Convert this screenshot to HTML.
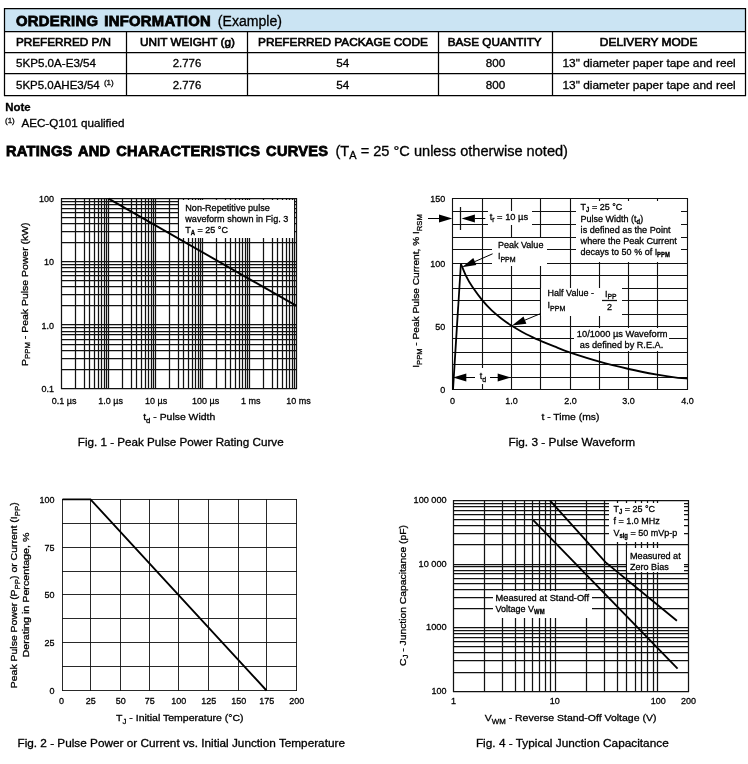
<!DOCTYPE html>
<html lang="en"><head><meta charset="utf-8"><title>Ordering Information and Ratings Curves</title>
<style>html,body{margin:0;padding:0;background:#fff;}body{width:748px;height:764px;overflow:hidden;}svg{display:block;font-family:"Liberation Sans", Arial, Helvetica, sans-serif;}text{fill:#000;stroke:#000;stroke-width:0.3px;}.g line{stroke-width:1.25px;}.g2 line{stroke-width:0.9px;}.g3 line{stroke-width:1.12px;}.hv{stroke-width:0.8px;}.md{stroke-width:0.6px;}.sm{stroke-width:0.28px;}.sb{stroke-width:0.3px;}</style></head><body>
<svg width="748" height="764" viewBox="0 0 748 764">
<rect x="0.00" y="0.00" width="748.00" height="764.00" fill="#fff" />
<g class="g">
<rect x="4" y="8" width="742" height="24" fill="#cbe4f3"/>
<line x1="4" y1="8.5" x2="746" y2="8.5" stroke="#000"/>
<line x1="4" y1="31.5" x2="746" y2="31.5" stroke="#000"/>
<line x1="4" y1="52.5" x2="746" y2="52.5" stroke="#000"/>
<line x1="4" y1="73.5" x2="746" y2="73.5" stroke="#000"/>
<line x1="4" y1="95.5" x2="746" y2="95.5" stroke="#000"/>
<line x1="4.5" y1="8" x2="4.5" y2="96" stroke="#000"/>
<line x1="745.5" y1="8" x2="745.5" y2="96" stroke="#000"/>
<line x1="126.5" y1="31" x2="126.5" y2="96" stroke="#000"/>
<line x1="247.5" y1="31" x2="247.5" y2="96" stroke="#000"/>
<line x1="438.5" y1="31" x2="438.5" y2="96" stroke="#000"/>
<line x1="552.5" y1="31" x2="552.5" y2="96" stroke="#000"/>
</g>
<text transform="translate(16 25.7) rotate(0.02)" font-size="14.3" font-weight="bold" class="hv" letter-spacing="0.3" word-spacing="1.5" textLength="195" lengthAdjust="spacingAndGlyphs">ORDERING INFORMATION</text>
<text transform="translate(217.80 25.60) rotate(0.02)" font-size="14" textLength="64.20" lengthAdjust="spacingAndGlyphs" >(Example)</text>
<text transform="translate(16.00 45.70) rotate(0.02)" font-size="11" textLength="95.00" lengthAdjust="spacingAndGlyphs" class="md">PREFERRED P/N</text>
<text transform="translate(187.50 45.70) rotate(0.02)" font-size="11" text-anchor="middle" textLength="95.00" lengthAdjust="spacingAndGlyphs" class="md">UNIT WEIGHT (g)</text>
<text transform="translate(343.00 45.70) rotate(0.02)" font-size="11" text-anchor="middle" textLength="170.00" lengthAdjust="spacingAndGlyphs" class="md">PREFERRED PACKAGE CODE</text>
<text transform="translate(494.70 45.70) rotate(0.02)" font-size="11" text-anchor="middle" textLength="94.00" lengthAdjust="spacingAndGlyphs" class="md">BASE QUANTITY</text>
<text transform="translate(648.60 45.70) rotate(0.02)" font-size="11" text-anchor="middle" textLength="97.50" lengthAdjust="spacingAndGlyphs" class="md">DELIVERY MODE</text>
<text transform="translate(16.00 67.00) rotate(0.02)" font-size="11" textLength="80.00" lengthAdjust="spacingAndGlyphs" >5KP5.0A-E3/54</text>
<text transform="translate(16.00 88.80) rotate(0.02)" font-size="11" textLength="83.70" lengthAdjust="spacingAndGlyphs" >5KP5.0AHE3/54</text>
<text transform="translate(103.90 85.20) rotate(0.02)" font-size="8" class="sm">(1)</text>
<text transform="translate(187.00 67.00) rotate(0.02)" font-size="11" text-anchor="middle" textLength="28.50" lengthAdjust="spacingAndGlyphs" >2.776</text>
<text transform="translate(342.80 67.00) rotate(0.02)" font-size="11" text-anchor="middle" textLength="13.00" lengthAdjust="spacingAndGlyphs" >54</text>
<text transform="translate(495.40 67.00) rotate(0.02)" font-size="11" text-anchor="middle" textLength="19.50" lengthAdjust="spacingAndGlyphs" >800</text>
<text transform="translate(649.10 67.00) rotate(0.02)" font-size="11" text-anchor="middle" textLength="173.30" lengthAdjust="spacingAndGlyphs" >13" diameter paper tape and reel</text>
<text transform="translate(187.00 88.80) rotate(0.02)" font-size="11" text-anchor="middle" textLength="28.50" lengthAdjust="spacingAndGlyphs" >2.776</text>
<text transform="translate(342.80 88.80) rotate(0.02)" font-size="11" text-anchor="middle" textLength="13.00" lengthAdjust="spacingAndGlyphs" >54</text>
<text transform="translate(495.40 88.80) rotate(0.02)" font-size="11" text-anchor="middle" textLength="19.50" lengthAdjust="spacingAndGlyphs" >800</text>
<text transform="translate(649.10 88.80) rotate(0.02)" font-size="11" text-anchor="middle" textLength="173.30" lengthAdjust="spacingAndGlyphs" >13" diameter paper tape and reel</text>
<text transform="translate(5.30 110.50) rotate(0.02)" font-size="11" font-weight="bold" textLength="25.40" lengthAdjust="spacingAndGlyphs" >Note</text>
<text transform="translate(5.00 123.00) rotate(0.02)" font-size="8" class="sm">(1)</text>
<text transform="translate(21.40 127.00) rotate(0.02)" font-size="11" textLength="103.00" lengthAdjust="spacingAndGlyphs" >AEC-Q101 qualified</text>
<text transform="translate(5.9 155.9) rotate(0.02)" font-size="14.3" font-weight="bold" class="hv" letter-spacing="0.3" word-spacing="1.5" textLength="322.5" lengthAdjust="spacingAndGlyphs">RATINGS AND CHARACTERISTICS CURVES</text>
<text transform="translate(335.5 156.1) rotate(0.02)" font-size="14" textLength="232.5" lengthAdjust="spacingAndGlyphs">(T<tspan font-size="10.5" dy="3">A</tspan><tspan dy="-3"> = 25 °C unless otherwise noted)</tspan></text>
<g class="g">
<line x1="61.5" y1="198" x2="61.5" y2="389" stroke="#111"/>
<line x1="75.5" y1="198" x2="75.5" y2="389" stroke="#111"/>
<line x1="84.5" y1="198" x2="84.5" y2="389" stroke="#111"/>
<line x1="89.5" y1="198" x2="89.5" y2="389" stroke="#111"/>
<line x1="94.5" y1="198" x2="94.5" y2="389" stroke="#111"/>
<line x1="98.5" y1="198" x2="98.5" y2="389" stroke="#111"/>
<line x1="101.5" y1="198" x2="101.5" y2="389" stroke="#111"/>
<line x1="104.5" y1="198" x2="104.5" y2="389" stroke="#111"/>
<line x1="106.5" y1="198" x2="106.5" y2="389" stroke="#111"/>
<line x1="108.5" y1="198" x2="108.5" y2="389" stroke="#111"/>
<line x1="122.5" y1="198" x2="122.5" y2="389" stroke="#111"/>
<line x1="131.5" y1="198" x2="131.5" y2="389" stroke="#111"/>
<line x1="136.5" y1="198" x2="136.5" y2="389" stroke="#111"/>
<line x1="141.5" y1="198" x2="141.5" y2="389" stroke="#111"/>
<line x1="145.5" y1="198" x2="145.5" y2="389" stroke="#111"/>
<line x1="148.5" y1="198" x2="148.5" y2="389" stroke="#111"/>
<line x1="151.5" y1="198" x2="151.5" y2="389" stroke="#111"/>
<line x1="153.5" y1="198" x2="153.5" y2="389" stroke="#111"/>
<line x1="155.5" y1="198" x2="155.5" y2="389" stroke="#111"/>
<line x1="169.5" y1="198" x2="169.5" y2="389" stroke="#111"/>
<line x1="178.5" y1="198" x2="178.5" y2="389" stroke="#111"/>
<line x1="183.5" y1="198" x2="183.5" y2="389" stroke="#111"/>
<line x1="188.5" y1="198" x2="188.5" y2="389" stroke="#111"/>
<line x1="192.5" y1="198" x2="192.5" y2="389" stroke="#111"/>
<line x1="195.5" y1="198" x2="195.5" y2="389" stroke="#111"/>
<line x1="198.5" y1="198" x2="198.5" y2="389" stroke="#111"/>
<line x1="200.5" y1="198" x2="200.5" y2="389" stroke="#111"/>
<line x1="202.5" y1="198" x2="202.5" y2="389" stroke="#111"/>
<line x1="216.5" y1="198" x2="216.5" y2="389" stroke="#111"/>
<line x1="225.5" y1="198" x2="225.5" y2="389" stroke="#111"/>
<line x1="230.5" y1="198" x2="230.5" y2="389" stroke="#111"/>
<line x1="235.5" y1="198" x2="235.5" y2="389" stroke="#111"/>
<line x1="239.5" y1="198" x2="239.5" y2="389" stroke="#111"/>
<line x1="242.5" y1="198" x2="242.5" y2="389" stroke="#111"/>
<line x1="245.5" y1="198" x2="245.5" y2="389" stroke="#111"/>
<line x1="247.5" y1="198" x2="247.5" y2="389" stroke="#111"/>
<line x1="249.5" y1="198" x2="249.5" y2="389" stroke="#111"/>
<line x1="263.5" y1="198" x2="263.5" y2="389" stroke="#111"/>
<line x1="272.5" y1="198" x2="272.5" y2="389" stroke="#111"/>
<line x1="277.5" y1="198" x2="277.5" y2="389" stroke="#111"/>
<line x1="282.5" y1="198" x2="282.5" y2="389" stroke="#111"/>
<line x1="286.5" y1="198" x2="286.5" y2="389" stroke="#111"/>
<line x1="289.5" y1="198" x2="289.5" y2="389" stroke="#111"/>
<line x1="292.5" y1="198" x2="292.5" y2="389" stroke="#111"/>
<line x1="294.5" y1="198" x2="294.5" y2="389" stroke="#111"/>
<line x1="296.5" y1="198" x2="296.5" y2="389" stroke="#111"/>
<line x1="61" y1="388.5" x2="297" y2="388.5" stroke="#111"/>
<line x1="61" y1="369.5" x2="297" y2="369.5" stroke="#111"/>
<line x1="61" y1="358.5" x2="297" y2="358.5" stroke="#111"/>
<line x1="61" y1="350.5" x2="297" y2="350.5" stroke="#111"/>
<line x1="61" y1="344.5" x2="297" y2="344.5" stroke="#111"/>
<line x1="61" y1="339.5" x2="297" y2="339.5" stroke="#111"/>
<line x1="61" y1="334.5" x2="297" y2="334.5" stroke="#111"/>
<line x1="61" y1="331.5" x2="297" y2="331.5" stroke="#111"/>
<line x1="61" y1="327.5" x2="297" y2="327.5" stroke="#111"/>
<line x1="61" y1="324.5" x2="297" y2="324.5" stroke="#111"/>
<line x1="61" y1="305.5" x2="297" y2="305.5" stroke="#111"/>
<line x1="61" y1="294.5" x2="297" y2="294.5" stroke="#111"/>
<line x1="61" y1="286.5" x2="297" y2="286.5" stroke="#111"/>
<line x1="61" y1="280.5" x2="297" y2="280.5" stroke="#111"/>
<line x1="61" y1="275.5" x2="297" y2="275.5" stroke="#111"/>
<line x1="61" y1="271.5" x2="297" y2="271.5" stroke="#111"/>
<line x1="61" y1="267.5" x2="297" y2="267.5" stroke="#111"/>
<line x1="61" y1="264.5" x2="297" y2="264.5" stroke="#111"/>
<line x1="61" y1="261.5" x2="297" y2="261.5" stroke="#111"/>
<line x1="61" y1="242.5" x2="297" y2="242.5" stroke="#111"/>
<line x1="61" y1="231.5" x2="297" y2="231.5" stroke="#111"/>
<line x1="61" y1="223.5" x2="297" y2="223.5" stroke="#111"/>
<line x1="61" y1="217.5" x2="297" y2="217.5" stroke="#111"/>
<line x1="61" y1="212.5" x2="297" y2="212.5" stroke="#111"/>
<line x1="61" y1="208.5" x2="297" y2="208.5" stroke="#111"/>
<line x1="61" y1="204.5" x2="297" y2="204.5" stroke="#111"/>
<line x1="61" y1="201.5" x2="297" y2="201.5" stroke="#111"/>
<line x1="61" y1="198.5" x2="297" y2="198.5" stroke="#111"/>
<rect x="179" y="200" width="115" height="38" fill="#fff"/>
</g>
<text transform="translate(185.30 211.20) rotate(0.02)" x="0.00" y="0" font-size="9.6" textLength="84.50" lengthAdjust="spacingAndGlyphs">Non-Repetitive pulse</text>
<text transform="translate(185.30 222.00) rotate(0.02)" x="0.00" y="0" font-size="9.6" textLength="103.00" lengthAdjust="spacingAndGlyphs">waveform shown in Fig. 3</text>
<text transform="translate(185.30 232.60) rotate(0.02)" x="0.00" y="0" font-size="9.6" textLength="42.63" lengthAdjust="spacingAndGlyphs">T<tspan font-size="6.3" dy="2.0" font-weight="bold">A</tspan><tspan dy="-2.0"> = 25 °C</tspan></text>
<line x1="108.58" y1="198.70" x2="296.58" y2="305.94" stroke="#000" stroke-width="1.9" />
<text transform="translate(54.00 202.00) rotate(0.02)" x="-15.02" y="0" font-size="9.8" textLength="15.02" lengthAdjust="spacingAndGlyphs">100</text>
<text transform="translate(54.00 265.00) rotate(0.02)" x="-10.01" y="0" font-size="9.8" textLength="10.01" lengthAdjust="spacingAndGlyphs">10</text>
<text transform="translate(54.00 329.00) rotate(0.02)" x="-12.51" y="0" font-size="9.8" textLength="12.51" lengthAdjust="spacingAndGlyphs">1.0</text>
<text transform="translate(54.00 392.00) rotate(0.02)" x="-12.51" y="0" font-size="9.8" textLength="12.51" lengthAdjust="spacingAndGlyphs">0.1</text>
<text transform="translate(64.20 404.00) rotate(0.02)" x="-12.35" y="0" font-size="9.8" textLength="24.70" lengthAdjust="spacingAndGlyphs">0.1 µs</text>
<text transform="translate(110.70 404.00) rotate(0.02)" x="-12.35" y="0" font-size="9.8" textLength="24.70" lengthAdjust="spacingAndGlyphs">1.0 µs</text>
<text transform="translate(156.10 404.00) rotate(0.02)" x="-11.10" y="0" font-size="9.8" textLength="22.20" lengthAdjust="spacingAndGlyphs">10 µs</text>
<text transform="translate(205.60 404.00) rotate(0.02)" x="-13.60" y="0" font-size="9.8" textLength="27.20" lengthAdjust="spacingAndGlyphs">100 µs</text>
<text transform="translate(250.80 404.00) rotate(0.02)" x="-9.75" y="0" font-size="9.8" textLength="19.50" lengthAdjust="spacingAndGlyphs">1 ms</text>
<text transform="translate(298.40 404.00) rotate(0.02)" x="-12.25" y="0" font-size="9.8" textLength="24.51" lengthAdjust="spacingAndGlyphs">10 ms</text>
<text transform="translate(143.20 420.30) rotate(0.02)" x="0.00" y="0" font-size="9.9" textLength="72.00" lengthAdjust="spacingAndGlyphs">t<tspan font-size="7.4" dy="2.8" class="sb">d</tspan><tspan dy="-2.8"> - Pulse Width</tspan></text>
<text transform="translate(180.70 446.10) rotate(0.02)" font-size="11" text-anchor="middle" textLength="205.80" lengthAdjust="spacingAndGlyphs" >Fig. 1 - Peak Pulse Power Rating Curve</text>
<text transform="translate(27.60 294.20) rotate(-89.98)" x="-71.75" y="0" font-size="9.9" textLength="143.50" lengthAdjust="spacingAndGlyphs">P<tspan font-size="7.4" dy="2.8" class="sb">PPM</tspan><tspan dy="-2.8"> - Peak Pulse Power (kW)</tspan></text>
<g class="g g3">
<line x1="452.5" y1="198" x2="452.5" y2="390" stroke="#111"/>
<line x1="482.5" y1="198" x2="482.5" y2="390" stroke="#111"/>
<line x1="511.5" y1="198" x2="511.5" y2="390" stroke="#111"/>
<line x1="540.5" y1="198" x2="540.5" y2="390" stroke="#111"/>
<line x1="570.5" y1="198" x2="570.5" y2="390" stroke="#111"/>
<line x1="599.5" y1="198" x2="599.5" y2="390" stroke="#111"/>
<line x1="628.5" y1="198" x2="628.5" y2="390" stroke="#111"/>
<line x1="657.5" y1="198" x2="657.5" y2="390" stroke="#111"/>
<line x1="687.5" y1="198" x2="687.5" y2="390" stroke="#111"/>
<line x1="452" y1="198.5" x2="688" y2="198.5" stroke="#111"/>
<line x1="452" y1="211.5" x2="688" y2="211.5" stroke="#111"/>
<line x1="452" y1="224.5" x2="688" y2="224.5" stroke="#111"/>
<line x1="452" y1="237.5" x2="688" y2="237.5" stroke="#111"/>
<line x1="452" y1="249.5" x2="688" y2="249.5" stroke="#111"/>
<line x1="452" y1="263.5" x2="688" y2="263.5" stroke="#111"/>
<line x1="452" y1="275.5" x2="688" y2="275.5" stroke="#111"/>
<line x1="452" y1="288.5" x2="688" y2="288.5" stroke="#111"/>
<line x1="452" y1="300.5" x2="688" y2="300.5" stroke="#111"/>
<line x1="452" y1="314.5" x2="688" y2="314.5" stroke="#111"/>
<line x1="452" y1="326.5" x2="688" y2="326.5" stroke="#111"/>
<line x1="452" y1="338.5" x2="688" y2="338.5" stroke="#111"/>
<line x1="452" y1="352.5" x2="688" y2="352.5" stroke="#111"/>
<line x1="452" y1="364.5" x2="688" y2="364.5" stroke="#111"/>
<line x1="452" y1="377.5" x2="688" y2="377.5" stroke="#111"/>
<line x1="452" y1="389.5" x2="688" y2="389.5" stroke="#111"/>
<rect x="576" y="201" width="105" height="61" fill="#fff"/>
<rect x="488" y="211" width="44" height="14" fill="#fff"/>
<rect x="492" y="238" width="55" height="28" fill="#fff"/>
<rect x="541" y="288" width="81" height="28" fill="#fff"/>
<rect x="574" y="328" width="95" height="23" fill="#fff"/>
<rect x="475" y="368" width="15" height="16" fill="#fff"/>
</g>
<polyline points="453,389.5 460.9,263.8" fill="none" stroke="#000" stroke-width="1.8"/>
<path d="M460.9,263.8 C461.8,265.8 464.1,272.0 466.0,275.9 C467.9,279.8 469.7,283.0 472.5,287.1 C475.3,291.2 479.4,296.8 482.6,300.7 C485.8,304.6 488.6,307.4 491.7,310.4 C494.8,313.3 498.0,315.9 501.3,318.4 C504.6,320.9 507.9,323.3 511.4,325.6 C514.9,327.9 518.5,330.0 522.2,332.0 C525.9,334.0 530.3,336.1 533.4,337.6 C536.5,339.1 537.1,339.3 540.6,340.8 C544.1,342.3 549.3,344.4 554.3,346.4 C559.2,348.4 562.8,350.1 570.3,352.7 C577.8,355.2 589.6,359.0 599.4,361.7 C609.1,364.4 619.2,366.8 628.8,369.0 C638.4,371.2 648.9,373.2 657.1,374.7 C665.3,376.2 672.9,377.3 678.0,377.9 C683.1,378.5 685.9,378.4 687.5,378.5" fill="none" stroke="#000" stroke-width="1.85"/>
<text transform="translate(580.60 209.60) rotate(0.02)" x="0.00" y="0" font-size="9.6" textLength="41.65" lengthAdjust="spacingAndGlyphs">T<tspan font-size="6.3" dy="2.0" font-weight="bold">J</tspan><tspan dy="-2.0"> = 25 °C</tspan></text>
<text transform="translate(580.60 221.80) rotate(0.02)" x="0.00" y="0" font-size="9.6" textLength="62.62" lengthAdjust="spacingAndGlyphs">Pulse Width (t<tspan font-size="6.3" dy="2.0" font-weight="bold">d</tspan><tspan dy="-2.0">)</tspan></text>
<text transform="translate(580.60 232.90) rotate(0.02)" x="0.00" y="0" font-size="9.6" textLength="90.00" lengthAdjust="spacingAndGlyphs">is defined as the Point</text>
<text transform="translate(580.60 244.20) rotate(0.02)" x="0.00" y="0" font-size="9.6" textLength="96.20" lengthAdjust="spacingAndGlyphs">where the Peak Current</text>
<text transform="translate(580.60 255.00) rotate(0.02)" x="0.00" y="0" font-size="9.6" textLength="89.34" lengthAdjust="spacingAndGlyphs">decays to 50 % of I<tspan font-size="6.3" dy="2.0" font-weight="bold">PPM</tspan></text>
<text transform="translate(489.70 220.20) rotate(0.02)" x="0.00" y="0" font-size="9.6" textLength="38.50" lengthAdjust="spacingAndGlyphs">t<tspan font-size="6.8" dy="2.0" class="sb">r</tspan><tspan dy="-2.0"> = 10 µs</tspan></text>
<text transform="translate(497.90 247.80) rotate(0.02)" x="0.00" y="0" font-size="9.6" textLength="45.50" lengthAdjust="spacingAndGlyphs">Peak Value</text>
<text transform="translate(497.90 258.60) rotate(0.02)" x="0.00" y="0" font-size="9.6" textLength="17.74" lengthAdjust="spacingAndGlyphs">I<tspan font-size="7.5" dy="3.0" class="sb">PPM</tspan></text>
<text transform="translate(547.60 295.70) rotate(0.02)" x="0.00" y="0" font-size="9.6" textLength="46.35" lengthAdjust="spacingAndGlyphs">Half Value -</text>
<text transform="translate(547.60 307.80) rotate(0.02)" x="0.00" y="0" font-size="9.6" textLength="17.74" lengthAdjust="spacingAndGlyphs">I<tspan font-size="7.5" dy="3.0" class="sb">PPM</tspan></text>
<text transform="translate(605.00 296.60) rotate(0.02)" x="0.00" y="0" font-size="9.6" textLength="11.50" lengthAdjust="spacingAndGlyphs">I<tspan font-size="7.2" dy="2.5" class="sb">PP</tspan></text>
<g class="g"><line x1="602" y1="300.5" x2="617" y2="300.5" stroke="#111"/></g>
<text transform="translate(609.60 309.70) rotate(0.02)" x="-2.50" y="0" font-size="9.6" textLength="5.01" lengthAdjust="spacingAndGlyphs">2</text>
<text transform="translate(576.80 336.70) rotate(0.02)" x="0.00" y="0" font-size="9.6" textLength="90.70" lengthAdjust="spacingAndGlyphs">10/1000 µs Waveform</text>
<text transform="translate(579.80 347.90) rotate(0.02)" x="0.00" y="0" font-size="9.6" textLength="83.40" lengthAdjust="spacingAndGlyphs">as defined by R.E.A.</text>
<text transform="translate(483.00 378.90) rotate(0.02)" x="-3.21" y="0" font-size="9.6" textLength="6.41" lengthAdjust="spacingAndGlyphs">t<tspan font-size="7.5" dy="3.0" class="sb">d</tspan></text>
<line x1="428.00" y1="218.50" x2="439.00" y2="218.50" stroke="#000" stroke-width="1" /><polygon points="452.30,218.50 439.00,214.60 439.00,222.40" fill="#000"/>
<line x1="485.30" y1="218.50" x2="474.90" y2="218.50" stroke="#000" stroke-width="1" /><polygon points="461.60,218.50 474.90,222.40 474.90,214.60" fill="#000"/>
<g class="g"><line x1="460.5" y1="207" x2="460.5" y2="230" stroke="#111"/></g>
<line x1="492.60" y1="253.80" x2="474.82" y2="261.58" stroke="#000" stroke-width="1" /><polygon points="462.00,267.20 476.35,265.07 473.30,258.10" fill="#000"/>
<line x1="540.60" y1="313.60" x2="524.93" y2="320.12" stroke="#000" stroke-width="1" /><polygon points="512.00,325.50 526.39,323.63 523.47,316.61" fill="#000"/>
<line x1="475.00" y1="377.50" x2="466.30" y2="377.50" stroke="#000" stroke-width="1" /><polygon points="453.00,377.50 466.30,381.40 466.30,373.60" fill="#000"/>
<line x1="490.00" y1="377.50" x2="497.70" y2="377.50" stroke="#000" stroke-width="1" /><polygon points="511.00,377.50 497.70,373.60 497.70,381.40" fill="#000"/>
<text transform="translate(445.20 202.00) rotate(0.02)" x="-15.02" y="0" font-size="9.8" textLength="15.02" lengthAdjust="spacingAndGlyphs">150</text>
<text transform="translate(445.20 267.00) rotate(0.02)" x="-15.02" y="0" font-size="9.8" textLength="15.02" lengthAdjust="spacingAndGlyphs">100</text>
<text transform="translate(445.20 330.00) rotate(0.02)" x="-10.01" y="0" font-size="9.8" textLength="10.01" lengthAdjust="spacingAndGlyphs">50</text>
<text transform="translate(445.20 393.00) rotate(0.02)" x="-5.01" y="0" font-size="9.8" textLength="5.01" lengthAdjust="spacingAndGlyphs">0</text>
<text transform="translate(452.50 404.00) rotate(0.02)" x="-2.50" y="0" font-size="9.8" textLength="5.01" lengthAdjust="spacingAndGlyphs">0</text>
<text transform="translate(511.50 404.00) rotate(0.02)" x="-6.26" y="0" font-size="9.8" textLength="12.51" lengthAdjust="spacingAndGlyphs">1.0</text>
<text transform="translate(570.50 404.00) rotate(0.02)" x="-6.26" y="0" font-size="9.8" textLength="12.51" lengthAdjust="spacingAndGlyphs">2.0</text>
<text transform="translate(628.50 404.00) rotate(0.02)" x="-6.26" y="0" font-size="9.8" textLength="12.51" lengthAdjust="spacingAndGlyphs">3.0</text>
<text transform="translate(687.50 404.00) rotate(0.02)" x="-6.26" y="0" font-size="9.8" textLength="12.51" lengthAdjust="spacingAndGlyphs">4.0</text>
<text transform="translate(570.40 420.30) rotate(0.02)" x="-29.00" y="0" font-size="9.9" textLength="58.00" lengthAdjust="spacingAndGlyphs">t - Time (ms)</text>
<text transform="translate(571.70 446.10) rotate(0.02)" font-size="11" text-anchor="middle" textLength="126.60" lengthAdjust="spacingAndGlyphs" >Fig. 3 - Pulse Waveform</text>
<text transform="translate(419.40 291.00) rotate(-89.98)" x="-76.75" y="0" font-size="9.9" textLength="153.50" lengthAdjust="spacingAndGlyphs">I<tspan font-size="7.4" dy="2.8" class="sb">PPM</tspan><tspan dy="-2.8"> - Peak Pulse Current, % I</tspan><tspan font-size="7.4" dy="2.8" class="sb">RSM</tspan></text>
<g class="g g2">
<line x1="62.5" y1="499" x2="62.5" y2="691" stroke="#111"/>
<line x1="90.5" y1="499" x2="90.5" y2="691" stroke="#111"/>
<line x1="120.5" y1="499" x2="120.5" y2="691" stroke="#111"/>
<line x1="149.5" y1="499" x2="149.5" y2="691" stroke="#111"/>
<line x1="178.5" y1="499" x2="178.5" y2="691" stroke="#111"/>
<line x1="208.5" y1="499" x2="208.5" y2="691" stroke="#111"/>
<line x1="238.5" y1="499" x2="238.5" y2="691" stroke="#111"/>
<line x1="266.5" y1="499" x2="266.5" y2="691" stroke="#111"/>
<line x1="296.5" y1="499" x2="296.5" y2="691" stroke="#111"/>
<line x1="62" y1="499.5" x2="297" y2="499.5" stroke="#111"/>
<line x1="62" y1="523.5" x2="297" y2="523.5" stroke="#111"/>
<line x1="62" y1="547.5" x2="297" y2="547.5" stroke="#111"/>
<line x1="62" y1="571.5" x2="297" y2="571.5" stroke="#111"/>
<line x1="62" y1="594.5" x2="297" y2="594.5" stroke="#111"/>
<line x1="62" y1="618.5" x2="297" y2="618.5" stroke="#111"/>
<line x1="62" y1="642.5" x2="297" y2="642.5" stroke="#111"/>
<line x1="62" y1="666.5" x2="297" y2="666.5" stroke="#111"/>
<line x1="62" y1="690.5" x2="297" y2="690.5" stroke="#111"/>
</g>
<polyline points="62.5,499.4 90.5,499.4 266.5,690.5" fill="none" stroke="#000" stroke-width="1.85"/>
<text transform="translate(54.60 503.00) rotate(0.02)" x="-15.02" y="0" font-size="9.8" textLength="15.02" lengthAdjust="spacingAndGlyphs">100</text>
<text transform="translate(54.60 551.00) rotate(0.02)" x="-10.01" y="0" font-size="9.8" textLength="10.01" lengthAdjust="spacingAndGlyphs">75</text>
<text transform="translate(54.60 598.00) rotate(0.02)" x="-10.01" y="0" font-size="9.8" textLength="10.01" lengthAdjust="spacingAndGlyphs">50</text>
<text transform="translate(54.60 646.00) rotate(0.02)" x="-10.01" y="0" font-size="9.8" textLength="10.01" lengthAdjust="spacingAndGlyphs">25</text>
<text transform="translate(54.60 694.00) rotate(0.02)" x="-5.01" y="0" font-size="9.8" textLength="5.01" lengthAdjust="spacingAndGlyphs">0</text>
<text transform="translate(61.50 704.30) rotate(0.02)" x="-2.50" y="0" font-size="9.8" textLength="5.01" lengthAdjust="spacingAndGlyphs">0</text>
<text transform="translate(90.70 704.30) rotate(0.02)" x="-5.01" y="0" font-size="9.8" textLength="10.01" lengthAdjust="spacingAndGlyphs">25</text>
<text transform="translate(120.70 704.30) rotate(0.02)" x="-5.01" y="0" font-size="9.8" textLength="10.01" lengthAdjust="spacingAndGlyphs">50</text>
<text transform="translate(149.70 704.30) rotate(0.02)" x="-5.01" y="0" font-size="9.8" textLength="10.01" lengthAdjust="spacingAndGlyphs">75</text>
<text transform="translate(178.70 704.30) rotate(0.02)" x="-7.51" y="0" font-size="9.8" textLength="15.02" lengthAdjust="spacingAndGlyphs">100</text>
<text transform="translate(208.70 704.30) rotate(0.02)" x="-7.51" y="0" font-size="9.8" textLength="15.02" lengthAdjust="spacingAndGlyphs">125</text>
<text transform="translate(238.70 704.30) rotate(0.02)" x="-7.51" y="0" font-size="9.8" textLength="15.02" lengthAdjust="spacingAndGlyphs">150</text>
<text transform="translate(266.70 704.30) rotate(0.02)" x="-7.51" y="0" font-size="9.8" textLength="15.02" lengthAdjust="spacingAndGlyphs">175</text>
<text transform="translate(296.70 704.30) rotate(0.02)" x="-7.51" y="0" font-size="9.8" textLength="15.02" lengthAdjust="spacingAndGlyphs">200</text>
<text transform="translate(179.80 720.80) rotate(0.02)" x="-63.75" y="0" font-size="9.9" textLength="127.50" lengthAdjust="spacingAndGlyphs">T<tspan font-size="7.4" dy="2.8" class="sb">J</tspan><tspan dy="-2.8"> - Initial Temperature (°C)</tspan></text>
<text transform="translate(181.20 746.80) rotate(0.02)" font-size="11" text-anchor="middle" textLength="327.50" lengthAdjust="spacingAndGlyphs" >Fig. 2 - Pulse Power or Current vs. Initial Junction Temperature</text>
<text transform="translate(17.00 595.25) rotate(-89.98)" x="-92.95" y="0" font-size="9.9" textLength="185.90" lengthAdjust="spacingAndGlyphs">Peak Pulse Power (P<tspan font-size="7.4" dy="2.8" class="sb">PP</tspan><tspan dy="-2.8">) or Current (I</tspan><tspan font-size="7.4" dy="2.8" class="sb">PP</tspan><tspan dy="-2.8">)</tspan></text>
<text transform="translate(29.00 595.00) rotate(-89.98)" x="-62.50" y="0" font-size="9.9" textLength="125.00" lengthAdjust="spacingAndGlyphs">Derating in Percentage, %</text>
<g class="g">
<line x1="453.5" y1="500" x2="453.5" y2="692" stroke="#111"/>
<line x1="484.5" y1="500" x2="484.5" y2="692" stroke="#111"/>
<line x1="502.5" y1="500" x2="502.5" y2="692" stroke="#111"/>
<line x1="515.5" y1="500" x2="515.5" y2="692" stroke="#111"/>
<line x1="524.5" y1="500" x2="524.5" y2="692" stroke="#111"/>
<line x1="532.5" y1="500" x2="532.5" y2="692" stroke="#111"/>
<line x1="539.5" y1="500" x2="539.5" y2="692" stroke="#111"/>
<line x1="545.5" y1="500" x2="545.5" y2="692" stroke="#111"/>
<line x1="550.5" y1="500" x2="550.5" y2="692" stroke="#111"/>
<line x1="555.5" y1="500" x2="555.5" y2="692" stroke="#111"/>
<line x1="586.5" y1="500" x2="586.5" y2="692" stroke="#111"/>
<line x1="604.5" y1="500" x2="604.5" y2="692" stroke="#111"/>
<line x1="617.5" y1="500" x2="617.5" y2="692" stroke="#111"/>
<line x1="626.5" y1="500" x2="626.5" y2="692" stroke="#111"/>
<line x1="635.5" y1="500" x2="635.5" y2="692" stroke="#111"/>
<line x1="641.5" y1="500" x2="641.5" y2="692" stroke="#111"/>
<line x1="647.5" y1="500" x2="647.5" y2="692" stroke="#111"/>
<line x1="653.5" y1="500" x2="653.5" y2="692" stroke="#111"/>
<line x1="657.5" y1="500" x2="657.5" y2="692" stroke="#111"/>
<line x1="688.5" y1="500" x2="688.5" y2="692" stroke="#111"/>
<line x1="453" y1="691.5" x2="689" y2="691.5" stroke="#111"/>
<line x1="453" y1="672.5" x2="689" y2="672.5" stroke="#111"/>
<line x1="453" y1="660.5" x2="689" y2="660.5" stroke="#111"/>
<line x1="453" y1="652.5" x2="689" y2="652.5" stroke="#111"/>
<line x1="453" y1="646.5" x2="689" y2="646.5" stroke="#111"/>
<line x1="453" y1="641.5" x2="689" y2="641.5" stroke="#111"/>
<line x1="453" y1="637.5" x2="689" y2="637.5" stroke="#111"/>
<line x1="453" y1="633.5" x2="689" y2="633.5" stroke="#111"/>
<line x1="453" y1="630.5" x2="689" y2="630.5" stroke="#111"/>
<line x1="453" y1="627.5" x2="689" y2="627.5" stroke="#111"/>
<line x1="453" y1="608.5" x2="689" y2="608.5" stroke="#111"/>
<line x1="453" y1="597.5" x2="689" y2="597.5" stroke="#111"/>
<line x1="453" y1="589.5" x2="689" y2="589.5" stroke="#111"/>
<line x1="453" y1="583.5" x2="689" y2="583.5" stroke="#111"/>
<line x1="453" y1="578.5" x2="689" y2="578.5" stroke="#111"/>
<line x1="453" y1="573.5" x2="689" y2="573.5" stroke="#111"/>
<line x1="453" y1="570.5" x2="689" y2="570.5" stroke="#111"/>
<line x1="453" y1="566.5" x2="689" y2="566.5" stroke="#111"/>
<line x1="453" y1="564.5" x2="689" y2="564.5" stroke="#111"/>
<line x1="453" y1="544.5" x2="689" y2="544.5" stroke="#111"/>
<line x1="453" y1="533.5" x2="689" y2="533.5" stroke="#111"/>
<line x1="453" y1="525.5" x2="689" y2="525.5" stroke="#111"/>
<line x1="453" y1="519.5" x2="689" y2="519.5" stroke="#111"/>
<line x1="453" y1="514.5" x2="689" y2="514.5" stroke="#111"/>
<line x1="453" y1="510.5" x2="689" y2="510.5" stroke="#111"/>
<line x1="453" y1="506.5" x2="689" y2="506.5" stroke="#111"/>
<line x1="453" y1="503.5" x2="689" y2="503.5" stroke="#111"/>
<line x1="453" y1="500.5" x2="689" y2="500.5" stroke="#111"/>
<rect x="609" y="503" width="75" height="39" fill="#fff"/>
<rect x="627" y="548" width="57" height="24" fill="#fff"/>
<rect x="493" y="591" width="99" height="27" fill="#fff"/>
</g>
<polyline points="550.1,500.6 605.4,562.2 676.9,620.7" fill="none" stroke="#000" stroke-width="1.85"/>
<polyline points="533.2,520.1 677.6,668.6" fill="none" stroke="#000" stroke-width="1.85"/>
<text transform="translate(613.40 512.20) rotate(0.02)" x="0.00" y="0" font-size="9.6" textLength="41.65" lengthAdjust="spacingAndGlyphs">T<tspan font-size="6.3" dy="2.0" font-weight="bold">J</tspan><tspan dy="-2.0"> = 25 °C</tspan></text>
<text transform="translate(613.40 524.30) rotate(0.02)" x="0.00" y="0" font-size="9.6" textLength="46.27" lengthAdjust="spacingAndGlyphs">f = 1.0 MHz</text>
<text transform="translate(613.40 535.60) rotate(0.02)" x="0.00" y="0" font-size="9.6" textLength="63.81" lengthAdjust="spacingAndGlyphs">V<tspan font-size="6.3" dy="2.0" font-weight="bold">sig</tspan><tspan dy="-2.0"> = 50 mVp-p</tspan></text>
<text transform="translate(630.00 558.80) rotate(0.02)" x="0.00" y="0" font-size="9.6" textLength="50.70" lengthAdjust="spacingAndGlyphs">Measured at</text>
<text transform="translate(630.00 569.60) rotate(0.02)" x="0.00" y="0" font-size="9.6" textLength="38.70" lengthAdjust="spacingAndGlyphs">Zero Bias</text>
<text transform="translate(495.60 600.70) rotate(0.02)" x="0.00" y="0" font-size="9.6" textLength="93.50" lengthAdjust="spacingAndGlyphs">Measured at Stand-Off</text>
<text transform="translate(495.60 611.60) rotate(0.02)" x="0.00" y="0" font-size="9.6" textLength="49.03" lengthAdjust="spacingAndGlyphs">Voltage V<tspan font-size="6.3" dy="2.0" font-weight="bold">WM</tspan></text>
<text transform="translate(446.60 503.50) rotate(0.02)" x="-33.00" y="0" font-size="9.8" textLength="33.00" lengthAdjust="spacingAndGlyphs">100 000</text>
<text transform="translate(446.60 567.50) rotate(0.02)" x="-28.00" y="0" font-size="9.8" textLength="28.00" lengthAdjust="spacingAndGlyphs">10 000</text>
<text transform="translate(446.60 629.80) rotate(0.02)" x="-20.60" y="0" font-size="9.8" textLength="20.60" lengthAdjust="spacingAndGlyphs">1000</text>
<text transform="translate(446.60 694.40) rotate(0.02)" x="-15.02" y="0" font-size="9.8" textLength="15.02" lengthAdjust="spacingAndGlyphs">100</text>
<text transform="translate(453.58 704.10) rotate(0.02)" x="-2.50" y="0" font-size="9.8" textLength="5.01" lengthAdjust="spacingAndGlyphs">1</text>
<text transform="translate(554.63 704.10) rotate(0.02)" x="-5.01" y="0" font-size="9.8" textLength="10.01" lengthAdjust="spacingAndGlyphs">10</text>
<text transform="translate(658.18 704.10) rotate(0.02)" x="-7.51" y="0" font-size="9.8" textLength="15.02" lengthAdjust="spacingAndGlyphs">100</text>
<text transform="translate(688.60 704.10) rotate(0.02)" x="-7.51" y="0" font-size="9.8" textLength="15.02" lengthAdjust="spacingAndGlyphs">200</text>
<text transform="translate(570.60 720.80) rotate(0.02)" x="-85.80" y="0" font-size="9.9" textLength="171.60" lengthAdjust="spacingAndGlyphs">V<tspan font-size="7.4" dy="2.8" class="sb">WM</tspan><tspan dy="-2.8"> - Reverse Stand-Off Voltage (V)</tspan></text>
<text transform="translate(572.30 746.80) rotate(0.02)" font-size="11" text-anchor="middle" textLength="192.80" lengthAdjust="spacingAndGlyphs" >Fig. 4 - Typical Junction Capacitance</text>
<text transform="translate(405.60 595.50) rotate(-89.98)" x="-70.50" y="0" font-size="9.9" textLength="141.00" lengthAdjust="spacingAndGlyphs">C<tspan font-size="7.4" dy="2.8" class="sb">J</tspan><tspan dy="-2.8"> - Junction Capacitance (pF)</tspan></text>
</svg></body></html>
